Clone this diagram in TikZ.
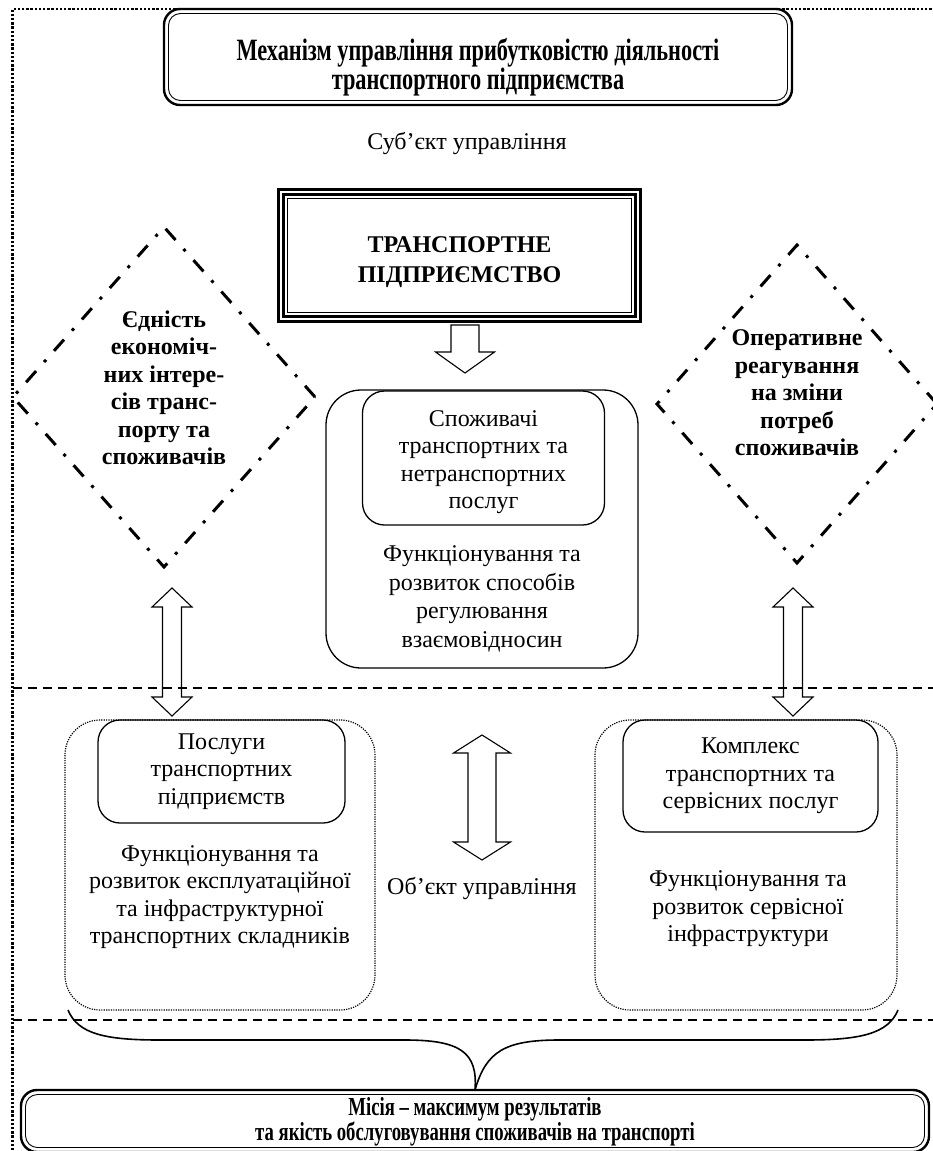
\documentclass[tikz,border=0pt]{standalone}
\usepackage{fontspec}
\setmainfont{Liberation Serif}
\newfontfamily\condfont{Liberation Serif}[FakeStretch=0.72]
\usetikzlibrary{shapes.geometric,calc}
\newcommand\dblarrow[6]{% x, ytop, ybot, half shaft, half head, head length
  \draw[arrowline] (#1,#2) -- (#1+#5,#2+#6) -- (#1+#4,#2+#6) -- (#1+#4,#3-#6) -- (#1+#5,#3-#6) -- (#1,#3)
    -- (#1-#5,#3-#6) -- (#1-#4,#3-#6) -- (#1-#4,#2+#6) -- (#1-#5,#2+#6) -- cycle;}
\begin{document}
\begin{tikzpicture}[x=1pt,y=-1pt,
  every node/.style={outer sep=0pt},
  body/.style={font=\fontsize{24}{27.5}\selectfont, align=center, inner sep=0pt},
  bodyb/.style={font=\fontsize{24}{27.5}\selectfont\bfseries, align=center, inner sep=0pt},
  condtext/.style={font=\condfont\bfseries\fontsize{31}{28}\selectfont, align=center, inner sep=0pt},
  dashdot/.style={line width=3pt, dash pattern=on 15pt off 12pt on 3pt off 12pt},
  framedot/.style={line width=2.4pt, dash pattern=on 2.4pt off 1.8pt},
  finedot/.style={line width=1.2pt, dash pattern=on 1.2pt off 1.2pt},
  sepline/.style={line width=1.2pt, dash pattern=on 9pt off 6pt},
  arrowline/.style={line width=1.1pt, fill=white, line join=miter},
  dblbox/.style={draw, line width=2.4pt, rounded corners=16pt, inner sep=0pt},
  solidbox/.style={draw, line width=1.3pt, inner sep=0pt},
]
\fill[white] (0,0) rectangle (933,1151);
\useasboundingbox (0,0) rectangle (933,1151);

% outer dotted frame
\coordinate (fTL) at (12.5,9);
\coordinate (fTR) at (940,9);
\coordinate (fBL) at (12.5,1160);
\draw[framedot] (fTR) -- (fTL) -- (fBL);

% title box
\node[dblbox, fill=white, minimum width=628, minimum height=96] (title) at (478,57) {};
\draw[line width=0.9pt, rounded corners=12pt] ([shift={(4.5,4.5)}]title.north west) rectangle ([shift={(-4.5,-4.5)}]title.south east);
\node[condtext] (titletext) at (478,67) {Механізм управління прибутковістю діяльності\\транспортного підприємства};

\node[body] (subj) at (467,143) {Суб’єкт управління};

% enterprise box (triple border)
\node[draw, line width=3pt, minimum width=362, minimum height=132, inner sep=0pt] (ent) at (459.5,255.5) {};
\draw[line width=3pt] ([shift={(5,5)}]ent.north west) rectangle ([shift={(-5,-5)}]ent.south east);
\draw[line width=1pt] ([shift={(9,9)}]ent.north west) rectangle ([shift={(-9,-9)}]ent.south east);
\node[bodyb, font=\fontsize{24}{30}\selectfont\bfseries] (enttext) at (459.5,262) {ТРАНСПОРТНЕ\\ПІДПРИЄМСТВО};

% down arrow
\draw[arrowline] (451,325) -- (479,325) -- (479,352) -- (494.5,352) -- (465,373) -- (435.5,352) -- (451,352) -- cycle;

% diamonds
\node[diamond, draw, dashdot, minimum width=302, minimum height=340, inner sep=0pt] (ldia) at (164,397) {};
\node[bodyb] (ldiatext) at (164,388) {Єдність\\економіч-\\них інтере-\\сів транс-\\порту та\\споживачів};
\node[diamond, draw, dashdot, minimum width=280, minimum height=318, inner sep=0pt] (rdia) at (797,404) {};
\node[bodyb] (rdiatext) at (797,393) {Оперативне\\реагування\\на зміни\\потреб\\споживачів};

% centre composite box
\node[solidbox, rounded corners=35pt, minimum width=312, minimum height=278] (cbox) at (482,529) {};
\node[solidbox, rounded corners=22pt, minimum width=242, minimum height=134] (cinner) at (483.5,458) {};
\node[body] (cintext) at (483.5,462) {Споживачі\\транспортних та\\нетранспортних\\послуг};
\node[body, font=\fontsize{24}{28.5}\selectfont] (ctext) at (482,599) {Функціонування та\\розвиток способів\\регулювання\\взаємовідносин};

% side double arrows
\dblarrow{172}{588}{716}{9.5}{20}{19}
\dblarrow{793}{588}{716}{9.5}{20}{19}

% separator lines
\coordinate (s1L) at (12.5,688);
\coordinate (s1R) at (933,688);
\draw[sepline] (s1L) -- (s1R);
\coordinate (s2L) at (12.5,1020);
\coordinate (s2R) at (933,1020);
\draw[sepline] (s2L) -- (s2R);

% lower left
\node[draw, finedot, rounded corners=35pt, minimum width=310, minimum height=290, inner sep=0pt] (lbox) at (220,865) {};
\node[solidbox, rounded corners=22pt, minimum width=247, minimum height=103, align=center, font=\fontsize{24}{27.5}\selectfont] (linner) at (221.5,771.5) {Послуги\\транспортних\\підприємств};
\node[body] (ltext) at (220,897) {Функціонування та\\розвиток експлуатаційної\\та інфраструктурної\\транспортних складників};

% centre double arrow and object label
\dblarrow{482}{735}{860}{14}{28.5}{18}
\node[body] (obj) at (482,888) {Об’єкт управління};

% lower right
\node[draw, finedot, rounded corners=35pt, minimum width=302, minimum height=290, inner sep=0pt] (rbox) at (746,865) {};
\node[solidbox, rounded corners=22pt, minimum width=255, minimum height=112, align=center, font=\fontsize{24}{27.5}\selectfont] (rinner) at (750.5,776) {Комплекс\\транспортних та\\сервісних послуг};
\node[body] (rtext) at (748,909) {Функціонування та\\розвиток сервісної\\інфраструктури};

% mission box
\node[dblbox, minimum width=908, minimum height=62] (mission) at (475,1121) {};
\draw[line width=0.9pt, rounded corners=12pt] ([shift={(4.5,4.5)}]mission.north west) rectangle ([shift={(-4.5,-4.5)}]mission.south east);
\node[condtext, font=\condfont\bfseries\fontsize{26}{25.5}\selectfont] (missiontext) at (475,1122) {Місія – максимум результатів\\та якість обслуговування споживачів на транспорті};

% brace
\coordinate (brL) at (68,1010);
\coordinate (brR) at (898,1010);
\draw[line width=1.6pt] (brL) .. controls (78,1034) and (105,1040) .. (160,1040) -- (405,1040)
  .. controls (460,1040) and (478,1052) .. (mission.north);
\draw[line width=1.6pt] (brR) .. controls (888,1034) and (860,1040) .. (805,1040) -- (559,1040)
  .. controls (504,1040) and (486,1052) .. (mission.north);
\end{tikzpicture}
\end{document}
